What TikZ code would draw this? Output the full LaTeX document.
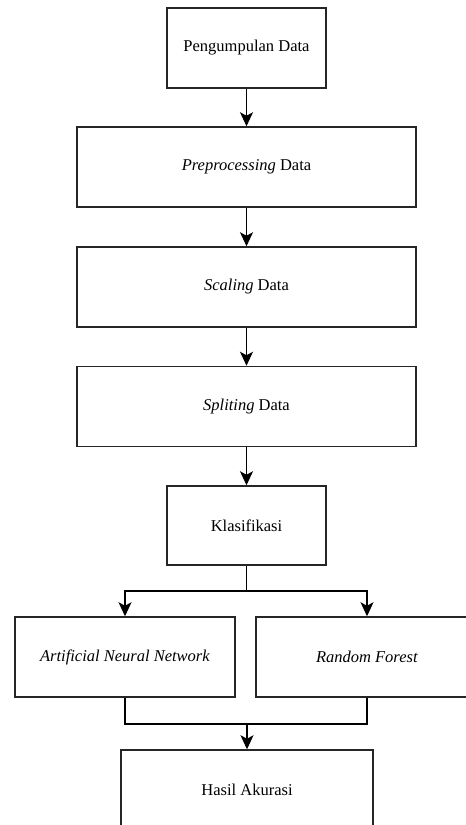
\documentclass[tikz,border=0pt]{standalone}
\usepackage{fontspec}
\setmainfont{Liberation Serif}
\usetikzlibrary{arrows.meta,calc}
\begin{document}
\begin{tikzpicture}[x=1pt,y=-1pt,
  box/.style={draw=black!85,line width=1.5pt,inner sep=0pt,font=\fontsize{16.5}{19}\selectfont,anchor=center},
  arr/.style={draw=black,line width=1.1pt,-{Stealth[length=14pt,width=13pt,inset=3.5pt]}},
  ln/.style={draw=black,line width=1.1pt}]
\clip (0,0) rectangle (466,825);
\fill[white] (0,0) rectangle (466,825);
\node[box,minimum width=159pt,minimum height=80pt] (b1) at (246.5,48) {Pengumpulan Data};
\node[box,minimum width=339pt,minimum height=80pt] (b2) at (246.5,167) {\textit{Preprocessing} Data};
\node[box,minimum width=339pt,minimum height=80pt] (b3) at (246.5,287) {\textit{Scaling} Data};
\node[box,minimum width=339pt,minimum height=80pt] (b4) at (246.5,406.5) {\textit{Spliting} Data};
\node[box,minimum width=159pt,minimum height=79pt] (b5) at (246.5,525.5) {Klasifikasi};
\node[box,minimum width=220pt,minimum height=80pt] (ann) at (125,657) {\textit{Artificial Neural Network}};
\node[box,minimum width=222pt,minimum height=80pt] (rf) at (367,657) {\textit{Random Forest}};
\node[box,minimum width=252pt,minimum height=80pt] (ha) at (247,790) {Hasil Akurasi};
\draw[arr] (b1.south) -- (b2.north);
\draw[arr] (b2.south) -- (b3.north);
\draw[arr] (b3.south) -- (b4.north);
\draw[arr] (b4.south) -- (b5.north);
\coordinate (br) at (246.5,591);
\draw[ln] (b5.south) -- (br);
\draw[arr] (br) -| (ann.north);
\draw[arr] (br) -| (rf.north);
\coordinate (mg) at (247,724);
\draw[ln] (ann.south) |- (mg) -| (rf.south);
\draw[arr] (mg) -- (ha.north);
\end{tikzpicture}
\end{document}
